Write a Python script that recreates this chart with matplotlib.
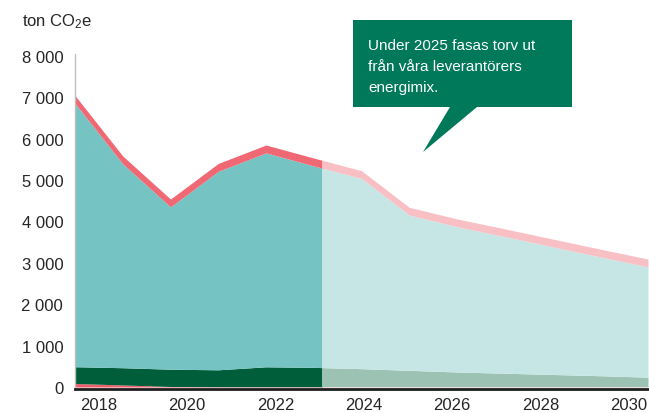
import matplotlib
matplotlib.use("Agg")
import matplotlib.pyplot as plt
from matplotlib.patches import Rectangle, Polygon
from matplotlib.ticker import FuncFormatter

plt.rcParams['font.family'] = ['Liberation Sans', 'DejaVu Sans']
plt.rcParams['mathtext.fontset'] = 'custom'
plt.rcParams['mathtext.rm'] = 'Liberation Sans'
plt.rcParams['mathtext.default'] = 'regular'

# ---- data (ton CO2e), 13 periods ----
periods = list(range(13))
bottom_red = [85, 50, 12, 8, 8, 8, 8, 8, 8, 8, 8, 8, 8]
green = [405, 416, 418, 408, 480, 466, 435, 395, 355, 325, 295, 265, 230]
teal = [6360, 4924, 3920, 4794, 5167, 4866, 4594, 3749, 3509, 3299, 3084, 2869, 2664]
top_red = [190, 190, 190, 190, 190, 190, 188, 188, 188, 188, 188, 188, 188]
split_period = 5.17          # where history ends and forecast begins

year_ticks = [2018, 2020, 2022, 2024, 2026, 2028, 2030]
year_range = (2017.463, 2030.437)
y_ticks = [0, 1000, 2000, 3000, 4000, 5000, 6000, 7000, 8000]

hist_colors = ['#ee5f6c', '#005e3b', '#75c3c3', '#f06874']
fc_colors = ['#f3b4ba', '#9bc2b3', '#c6e6e5', '#f8c0c5']

W, H = 649, 414
fig = plt.figure(figsize=(W / 100, H / 100), dpi=100)
ax = fig.add_axes([75 / W, 1 - 390 / H, (648 - 75) / W, (390 - 55) / H])

layers = [bottom_red, green, teal, top_red]
base = [0] * len(periods)
for k, layer in enumerate(layers):
    top = [b + v for b, v in zip(base, layer)]
    for colors, x0, x1 in ((hist_colors, -1, split_period), (fc_colors, split_period, 13)):
        pc = ax.fill_between(periods, base, top, color=colors[k], lw=0)
        pc.set_clip_path(Rectangle((x0, -1000), x1 - x0, 20000, transform=ax.transData))
    base = top

ax.set_xlim(0, 12)
ax.set_ylim(-48, 8043)
ax.set_xticks([])
ax.set_yticks(y_ticks)
ax.yaxis.set_major_formatter(FuncFormatter(lambda v, p: f"{int(v):,}".replace(",", " ")))
ax.tick_params(axis='y', length=0, pad=8.5, labelsize=12, labelcolor='#262626')
for s in ('top', 'right'):
    ax.spines[s].set_visible(False)
ax.spines['left'].set_color('#bfbfbf')
ax.spines['left'].set_linewidth(1)
ax.spines['bottom'].set_color('#1e1e1e')
ax.spines['bottom'].set_linewidth(2)

ax2 = ax.twiny()
ax2.set_xlim(*year_range)
ax2.xaxis.set_ticks_position('bottom')
ax2.set_xticks(year_ticks)
ax2.set_xticklabels([str(y) for y in year_ticks])
ax2.tick_params(axis='x', length=0, pad=5.5, labelsize=12, labelcolor='#262626')
for s in ax2.spines.values():
    s.set_visible(False)

def fp(x, y):
    return (x / W, 1 - y / H)

fig.text(*fp(22, 26), "ton CO$_2$e", fontsize=12, color='#262626', va='baseline', ha='left')

# callout
pts = [(353, 21), (572, 21), (572, 108), (477, 108), (423, 153), (450, 108), (353, 108)]
fig.patches.append(Polygon([fp(x, y) for x, y in pts], closed=True, transform=fig.transFigure,
                           facecolor='#00785a', edgecolor='none'))
lines = ["Under 2025 fasas torv ut", "från våra leverantörers", "energimix."]
for line, yb in zip(lines, [50, 71, 92]):
    fig.text(*fp(368, yb), line, fontsize=11, color='white', va='baseline', ha='left')

fig.savefig("out.png", dpi=100)
